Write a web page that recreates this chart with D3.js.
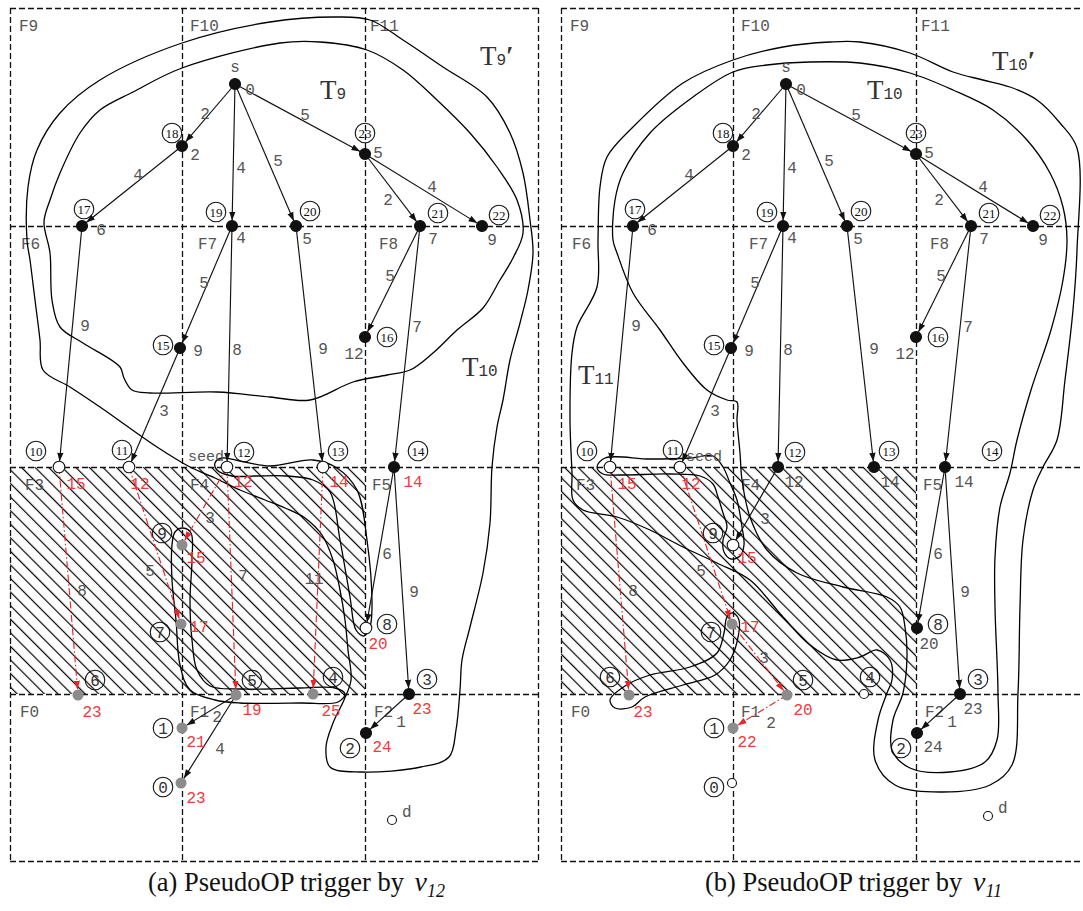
<!DOCTYPE html>
<html><head><meta charset="utf-8">
<script src="https://cdn.jsdelivr.net/npm/d3@7"></script>
<style>
body{margin:0;background:#fff;}
svg{display:block;}
</style></head><body>
<svg id="fig" width="1083" height="911"></svg>
<script>
// ---------- graph data ----------
const nodeIds = ["s","18","17","19","20","23","21","22","15","16","10","11","12","13","14","9","7","8","6","5","4","3","2","1","0","d"];
const nodeX   = [235,182,82,232,296,365,420,482,180,365,59,129,227,323,394,182,181,366,78,236,313,409,366,182,181,392];
const nodeY   = [84,146,226,226,226,154,226,226,348,337,467,467,467,467,467,545,624,628,695,695,694,694,733,728,783,820];
const sinkB   = [437,816];

// f = settled (black), o = open (white), g = pseudo (gray)
const kindA = ["f","f","f","f","f","f","f","f","f","f","o","o","o","o","f","g","g","o","g","g","g","f","f","g","g","o"];
const kindB = ["f","f","f","f","f","f","f","f","f","f","o","o","f","f","f","o","g","f","g","g","o","f","f","g","o","o"];

// distance labels, r = red, k = gray
const distA = ["0","2","6","4","5","5","7","9","9","12","15","12","12","14","14","15","17","20","23","19","25","23","24","21","23",""];
const colA  = ["k","k","k","k","k","k","k","k","k","k","r","r","r","r","r","r","r","r","r","r","r","r","r","r","r","k"];
const distB = ["0","2","6","4","5","5","7","9","9","12","15","12","12","14","14","15","17","20","23","20","","23","24","22","",""];
const colB  = ["k","k","k","k","k","k","k","k","k","k","r","r","k","k","k","r","r","k","r","r","k","k","k","r","k","k"];

// edges: [from, to, weight]
const treeEdges = [["s","18","2"],["s","19","4"],["s","20","5"],["s","23","5"],["18","17","4"],["23","21","2"],["23","22","4"],
  ["19","15","5"],["19","12","8"],["20","13","9"],["21","16","5"],["21","14","7"],["17","10","9"],["15","11","3"],
  ["14","8","6"],["14","3","9"],["3","2","1"]];
const extraEdgesA = [["5","1","2"],["5","0","4"]];
const pseudoEdgesA = [["10","6","8"],["11","7","5"],["12","9","3"],["12","5","7"],["13","4","11"]];
const extraEdgesB = [["12","9","3"]];
const pseudoEdgesB = [["10","6","8"],["11","7","5"],["7","5","3"],["5","1","2"]];

// field cells
const fieldNames = [["F9","F10","F11"],["F6","F7","F8"],["F3","F4","F5"],["F0","F1","F2"]];
const colBounds = [10,182,365,538];
const rowBounds = [8,226,467,694,861];

// ---------- layout helpers ----------
const weightAt = {
  "s-18":[205,113],"s-19":[241,167],"s-20":[278,160],"s-23":[305,114],"18-17":[138,174],"23-21":[388,199],"23-22":[432,186],
  "19-15":[204,282],"19-12":[237,349],"20-13":[323,348],"21-16":[390,275],"21-14":[417,326],"17-10":[85,325],"15-11":[164,410],
  "14-8":[387,553],"14-3":[414,591],"3-2":[401,721],"5-1":[217,716],"5-0":[220,748],
  "10-6":[82,590],"11-7":[150,570],"12-9":[210,517],"12-5":[243,575],"13-4":[314,578],"7-5":[213,657]
};
const weightAtB = {"12-9":[214,518],"5-1":[220,722],"10-6":[82,590],"11-7":[150,570]};
const tagOff = {"18":[-10,-13],"17":[2,-17],"19":[-16,-14],"20":[14,-15],"23":[0,-21],"21":[18,-13],"22":[17,-11],"15":[-17,-3],"16":[22,0],
  "10":[-23,-16],"11":[-7,-17],"12":[17,-15],"13":[15,-16],"14":[24,-16],"9":[-20,-12],"7":[-21,8],"8":[21,-4],"6":[17,-15],
  "5":[16,-15],"4":[20,-17],"3":[18,-15],"2":[-16,15],"1":[-19,0],"0":[-18,4]};
const tagOffB = {"14":[47,-16],"6":[-19,-18],"4":[6,-17]};
const distOff = {"s":[15,5],"18":[13,8],"17":[19,3],"19":[9,11],"20":[11,12],"23":[13,-2],"21":[13,12],"22":[10,13],"15":[18,2],"16":[-11,16],
  "10":[17,16],"11":[11,16],"12":[16,14],"13":[16,14],"14":[19,14],"9":[14,12],"7":[18,2],"8":[12,15],"6":[14,16],"5":[16,14],
  "4":[18,16],"3":[13,14],"2":[16,13],"1":[14,13],"0":[15,14]};
const fieldLabelX = [[19,190,370],[21,198,379],[25,190,372],[20,190,374]];

// ---------- contours ----------
const contA1 = [[280,43],[320,42],[367,50],[403,70],[437,100],[470,133],[497,167],[517,200],[523,233],[513,258],[500,280],[483,308],[457,330],[433,353],[410,370],[387,375],[353,382],[310,400],[270,397],[217,392],[150,393],[132,390],[124,378],[120,367],[83,343],[60,327],[52,300],[50,253],[44,222],[50,200],[60,173],[80,133],[100,110],[133,92],[182,68]];
const contA2 = [[190,467],[157,447],[100,407],[70,387],[43,370],[40,340],[35,300],[30,260],[27,240],[28,187],[37,150],[60,113],[100,80],[182,43],[270,22],[337,17],[370,20],[403,40],[443,67],[487,97],[510,133],[523,173],[530,220],[533,253],[528,290],[520,323],[510,360],[503,400],[497,427],[492,467],[490,523],[483,573],[470,627],[462,660],[460,690],[456,730],[449,757],[421,767],[361,772],[330,767],[326,747],[333,723],[344,700],[351,680],[348,650],[345,620],[340,590],[333,560],[322,535],[305,518],[285,508],[265,500],[240,490],[215,478]];
const contA3 = [[217,470],[215,463],[222,458],[240,461],[270,466],[313,460],[337,468],[357,490],[367,540],[372,607],[370,627],[364,636],[356,630],[350,597],[340,540],[330,492],[313,480],[287,476],[255,476],[232,476]];
const contA4 = [[175,532],[183,528],[191,533],[192,560],[190,600],[192,640],[197,670],[210,686],[240,689],[300,688],[335,688],[345,694],[338,702],[300,703],[240,703],[215,700],[190,690],[180,665],[176,620],[172,580],[172,545]];

const contB1 = [[279,42],[232,47],[182,60],[132,83],[82,127],[56,157],[49,187],[47,240],[46,287],[26,327],[21,353],[19,420],[21,473],[22,500],[32,510],[66,517],[99,530],[132,547],[166,563],[199,580],[232,617],[259,645],[286,660],[309,657],[326,650],[339,660],[341,680],[336,693],[327,720],[324,760],[344,785],[389,792],[439,785],[461,765],[467,693],[469,607],[472,540],[482,490],[492,467],[506,440],[514,380],[522,310],[526,250],[526,148],[509,123],[486,100],[459,87],[432,80],[402,72],[359,53],[309,42]];
const contB2 = [[259,62],[216,65],[182,72],[142,97],[99,133],[72,173],[64,200],[62,240],[66,253],[82,293],[109,330],[132,363],[156,390],[176,400],[186,402],[186,420],[189,453],[191,480],[199,517],[216,550],[246,573],[292,587],[336,597],[349,607],[354,627],[356,657],[352,693],[342,720],[341,750],[359,768],[399,772],[434,762],[446,740],[447,693],[444,607],[444,557],[449,507],[459,473],[466,440],[480,390],[500,330],[512,280],[516,240],[512,207],[499,173],[476,140],[442,110],[402,90],[359,73],[309,63]];
const contB3 = [[46,467],[54,458],[99,459],[139,458],[162,456],[172,467],[179,483],[186,500],[191,527],[193,545],[189,556],[180,559],[173,552],[172,540],[176,527],[172,513],[167,497],[162,484],[149,476],[119,474],[69,475],[52,474]];
const contB4 = [[59,700],[74,686],[99,675],[139,667],[166,653],[173,633],[176,617],[182,613],[188,620],[186,642],[179,660],[164,675],[132,685],[94,697],[81,707],[64,708]];

// ---------- drawing ----------
const svg = d3.select("#fig");
const defs = svg.append("defs");
const hatch = defs.append("pattern").attr("id","hatch").attr("patternUnits","userSpaceOnUse")
  .attr("width",9.6).attr("height",9.6).attr("patternTransform","rotate(-45)");
hatch.append("line").attr("x1",1.5).attr("y1",-1).attr("x2",1.5).attr("y2",11).attr("stroke","#000").attr("stroke-width",1.2);

function marker(id, color){
  defs.append("marker").attr("id",id).attr("viewBox","0 -4 10 8").attr("refX",10).attr("refY",0)
    .attr("markerUnits","userSpaceOnUse").attr("markerWidth",9).attr("markerHeight",7).attr("orient","auto")
    .append("path").attr("d","M0,-3.6L10,0L0,3.6Z").attr("fill",color);
}
marker("arrK","#111");
marker("arrR","#e8262a");

const RED = "#ef3b3b", GRAY = "#555";
const MONO = "'Liberation Mono','DejaVu Sans Mono',monospace";
const SERIF = "'Liberation Serif','DejaVu Serif',serif";

function drawPanel(offset, cfg){
  const x = d3.scaleLinear().domain([0,1000]).range([offset, offset+1000]);
  const y = d3.scaleLinear().domain([0,1000]).range([0,1000]);
  const g = svg.append("g");
  const pos = {};
  nodeIds.forEach((id,i)=>{ pos[id] = [nodeX[i], nodeY[i]]; });
  if (cfg.sink) pos["d"] = cfg.sink;

  // hatched (blocked) fields
  g.append("rect").attr("x",x(colBounds[0])).attr("y",y(rowBounds[2]))
    .attr("width",x(colBounds[2])-x(colBounds[0])).attr("height",y(rowBounds[3])-y(rowBounds[2]))
    .attr("fill","url(#hatch)");

  // field grid
  const grid = g.append("g").attr("stroke","#111").attr("stroke-width",1.3).attr("stroke-dasharray","6,3").attr("fill","none");
  rowBounds.forEach(r=>grid.append("line").attr("x1",x(colBounds[0])).attr("x2",x(colBounds[3])).attr("y1",y(r)+0.5).attr("y2",y(r)+0.5));
  colBounds.forEach(c=>grid.append("line").attr("x1",x(c)+0.5).attr("x2",x(c)+0.5).attr("y1",y(rowBounds[0])).attr("y2",y(rowBounds[4])));
  fieldNames.forEach((row,ri)=>row.forEach((nm,ci)=>{
    g.append("text").attr("x",x(fieldLabelX[ri][ci])).attr("y",y(rowBounds[ri]+23)).text(nm)
      .attr("font-family",MONO).attr("font-size",16).attr("fill",GRAY);
  }));

  // contours
  const lineOpen = d3.line().x(d=>x(d[0])).y(d=>y(d[1])).curve(d3.curveCatmullRom.alpha(0.5));
  const lineClosed = d3.line().x(d=>x(d[0])).y(d=>y(d[1])).curve(d3.curveCatmullRomClosed.alpha(0.5));
  cfg.closed.forEach(c=>g.append("path").attr("d",lineClosed(c)).attr("fill","none").attr("stroke","#000").attr("stroke-width",1.3));
  cfg.open.forEach(c=>g.append("path").attr("d",lineOpen(c)).attr("fill","none").attr("stroke","#000").attr("stroke-width",1.3));

  // edges
  function edge(e, red, labels){
    const a = pos[e[0]], b = pos[e[1]];
    const ax=x(a[0]), ay=y(a[1]), bx=x(b[0]), by=y(b[1]);
    const L = Math.hypot(bx-ax, by-ay), r = 5.5;
    const ex = bx-(bx-ax)/L*r, ey = by-(by-ay)/L*r;
    g.append("line").attr("x1",ax).attr("y1",ay).attr("x2",ex).attr("y2",ey)
      .attr("stroke", red? "#e8262a":"#111").attr("stroke-width",1.15)
      .attr("stroke-dasharray", red? "7,2.5,1.5,2.5":null)
      .attr("marker-end", red? "url(#arrR)":"url(#arrK)");
    const key = e[0]+"-"+e[1];
    const lp = (labels && labels[key]) || weightAt[key];
    g.append("text").attr("x",x(lp[0])).attr("y",y(lp[1])).attr("dy","0.35em").attr("text-anchor","middle")
      .text(e[2]).attr("font-family",MONO).attr("font-size",16).attr("fill",GRAY);
  }
  treeEdges.forEach(e=>edge(e,false,cfg.wAt));
  cfg.extra.forEach(e=>edge(e,false,cfg.wAt));
  cfg.pseudo.forEach(e=>edge(e,true,cfg.wAt));

  // nodes
  nodeIds.forEach((id,i)=>{
    const k = cfg.kind[i], p = pos[id];
    const small = (id==="d" || (k==="o" && (id==="4"||id==="0")));
    g.append("circle").attr("cx",x(p[0])).attr("cy",y(p[1])).attr("r", small?4.5:(k==="o"?5.8:5.5))
      .attr("fill", k==="f"?"#111":(k==="g"?"#8c8c8c":"#fff"))
      .attr("stroke", k==="g"?"none":"#111").attr("stroke-width",1.1);
  });

  // node id tags
  nodeIds.forEach((id)=>{
    const off = (cfg.tagB && cfg.tagB[id]) || tagOff[id];
    if (!off) return;
    const p = pos[id], cx = x(p[0]+off[0]), cy = y(p[1]+off[1]);
    g.append("circle").attr("cx",cx).attr("cy",cy).attr("r",9.8).attr("fill","none").attr("stroke","#111").attr("stroke-width",1.1);
    const two = id.length>1;
    g.append("text").attr("x",cx).attr("y",cy).attr("dy","0.36em").attr("text-anchor","middle").text(id)
      .attr("font-family", two? SERIF: MONO).attr("font-size", two?13:16).attr("fill", two?"#111":"#333");
  });

  // distance labels
  nodeIds.forEach((id,i)=>{
    const t = cfg.dist[i]; if (!t) return;
    const p = pos[id], off = distOff[id];
    g.append("text").attr("x",x(p[0]+off[0])).attr("y",y(p[1]+off[1])).attr("dy","0.35em").attr("text-anchor","middle")
      .text(t).attr("font-family",MONO).attr("font-size",16).attr("fill", cfg.col[i]==="r"?RED:GRAY);
  });
  // source / sink / seed
  g.append("text").attr("x",x(pos.s[0])).attr("y",y(pos.s[1]-12)).attr("text-anchor","middle").text("s")
    .attr("font-family",MONO).attr("font-size",16).attr("fill",GRAY);
  g.append("text").attr("x",x(pos.d[0]+10)).attr("y",y(pos.d[1]-3)).text("d")
    .attr("font-family",MONO).attr("font-size",16).attr("fill",GRAY);
  const sd = pos[cfg.seed];
  g.append("text").attr("x",x(sd[0]+cfg.seedDx)).attr("y",y(sd[1]-6)).attr("text-anchor",cfg.seedDx<0?"end":"start").text("seed")
    .attr("font-family",MONO).attr("font-size",15).attr("fill",GRAY);

  // tree names
  cfg.trees.forEach(t=>{
    const tx = g.append("text").attr("x",x(t[1])).attr("y",y(t[2])).attr("fill","#333");
    tx.append("tspan").text("T").attr("font-family",SERIF).attr("font-size",27);
    tx.append("tspan").text(t[0]).attr("font-family",MONO).attr("font-size",16);
    if (t[3]) tx.append("tspan").text("\u2032").attr("font-family",SERIF).attr("font-size",27).attr("font-weight","bold");
  });

  // caption
  const cap = g.append("text").attr("x",x(cfg.capX)).attr("y",y(891)).attr("font-family",SERIF).attr("font-size",26.5).attr("fill","#111");
  cap.append("tspan").text(cfg.cap + " PseudoOP trigger by ");
  cap.append("tspan").text("v").attr("font-style","italic").attr("font-size",28).attr("dx",4);
  cap.append("tspan").text(cfg.capSub).attr("font-style","italic").attr("font-size",18).attr("dy",6);
}

drawPanel(0, {kind:kindA, dist:distA, col:colA, extra:extraEdgesA, pseudo:pseudoEdgesA, wAt:null,
  closed:[contA1, contA2, contA3, contA4], open:[], seed:"12", seedDx:-3,
  trees:[["9",320,99,false],["9",480,65,true],["10",462,376,false]], cap:"(a)", capSub:"12", capX:148});
drawPanel(551, {kind:kindB, dist:distB, col:colB, extra:extraEdgesB, pseudo:pseudoEdgesB, wAt:weightAtB, sink:sinkB, tagB:tagOffB,
  closed:[contB1, contB2, contB3, contB4], open:[], seed:"11", seedDx:6,
  trees:[["10",316,99,false],["10",441,70,true],["11",27,384,false]], cap:"(b)", capSub:"11", capX:154});
</script>
</body></html>
